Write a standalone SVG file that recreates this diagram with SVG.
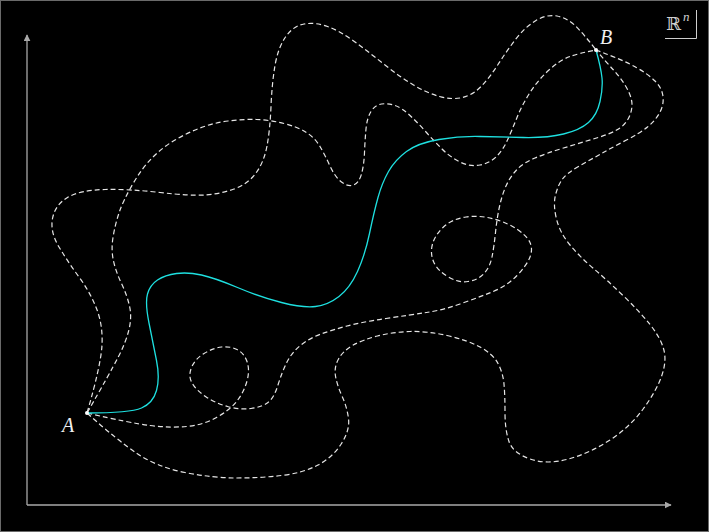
<svg xmlns="http://www.w3.org/2000/svg" width="709" height="532" viewBox="0 0 709 532">
<defs>
<style>
.bg{fill:#000;stroke:#6a6a6a;stroke-width:1}
.axis{fill:none;stroke:#a8a8a8;stroke-width:1.3}
.path{fill:none;stroke:#e6e6e6;stroke-width:1.2;stroke-dasharray:5 3;stroke-linecap:butt}
.main{fill:none;stroke:#1ee0e0;stroke-width:1.3}
.lbl{font-family:"Liberation Serif","DejaVu Serif",serif;font-style:italic;font-size:20px;fill:#f0f0f0}
.rn{font-family:"DejaVu Serif","Liberation Serif",serif;fill:#d0d0d0}
.dot{fill:#fff}
</style>
<marker id="arr" viewBox="0 0 10 10" refX="9" refY="5" markerWidth="7" markerHeight="7" markerUnits="userSpaceOnUse" orient="auto">
<path d="M0,0 L10,5 L0,10 Z" fill="#a8a8a8"/>
</marker>
</defs>
<rect class="bg" x="0.5" y="0.5" width="708" height="531"/>
<g id="axes">
<path class="axis" d="M27,505 L27,35" marker-end="url(#arr)"/>
<path class="axis" d="M27,505 L671,505" marker-end="url(#arr)"/>
</g>
<g id="space-label">
<path d="M665,38.5 L696.5,38.5 L696.5,10" fill="none" stroke="#cfcfcf" stroke-width="1"/>
<text class="rn" x="666" y="30" font-size="18">ℝ</text>
<text class="lbl" x="683" y="21" style="font-size:13px;fill:#d0d0d0">n</text>
</g>
<g id="connectors">
<path id="path-a" class="path" d="M87,413 Q101,365 102,345 Q103,325 96.5,308.5 Q90,292 79,277 Q68,262 59,247 Q50,232 52.5,218.5 Q55,205 67.5,197.5 Q80,190 105,189.5 Q130,189 160,192.5 Q190,196 205,195 Q220,194 234,189 Q248,184 256,173 Q264,162 267,146 Q270,130 271,106.5 Q272,83 275,65.5 Q278,48 285.5,37 Q293,26 304,24 Q315,22 327.5,26.5 Q340,31 355,42 Q370,53 385,65 Q400,77 413.5,85 Q427,93 439.5,96.5 Q452,100 462.5,97.5 Q473,95 481.5,86 Q490,77 498,64.5 Q506,52 515.5,39.5 Q525,27 536,20.5 Q547,14 557,16 Q567,18 575,25.5 Q583,33 596,50"/>
<path id="path-b" class="path" d="M87,413 Q110,373 118,357.5 Q126,342 129,329.5 Q132,317 129.5,306 Q127,295 121.5,283.5 Q116,272 113.5,261 Q111,250 113,237.5 Q115,225 119,213 Q123,201 132.5,184.5 Q142,168 152.5,157.5 Q163,147 175,140 Q187,133 200,128 Q213,123 228,121 Q243,119 256.5,119.5 Q270,120 284,123.5 Q298,127 306.5,132.5 Q315,138 320,146.5 Q325,155 330,166 Q335,177 341.5,182 Q348,187 353.5,185 Q359,183 361.5,174 Q364,165 364.5,152.5 Q365,140 366,129 Q367,118 371,111.5 Q375,105 381.5,104 Q388,103 395,105.5 Q402,108 410,115.5 Q418,123 426,132 Q434,141 442,149 Q450,157 460,162 Q470,167 480,165 Q490,163 496.5,156.5 Q503,150 507.5,140 Q512,130 517,117.5 Q522,105 530,92.5 Q538,80 549,70 Q560,60 570,56.5 Q580,53 596,50"/>
<path id="path-c" class="path" d="M87,413 Q130,423 150,425.5 Q170,428 186.5,426.5 Q203,425 216.5,417.5 Q230,410 237,401 Q244,392 247,381 Q250,370 247,361.5 Q244,353 237,349.5 Q230,346 221.5,347 Q213,348 204,353.5 Q195,359 191.5,367.5 Q188,376 192,383 Q196,390 205.5,396.5 Q215,403 227.5,406.5 Q240,410 251,408.5 Q262,407 268,402.5 Q274,398 278,385 Q282,372 287,362 Q292,352 301,345 Q310,338 321,334 Q332,330 347,326 Q362,322 386,318.5 Q410,315 426.5,312.5 Q443,310 460,304 Q477,298 492,292 Q507,286 517,275.5 Q527,265 530,257 Q533,249 530,242.5 Q527,236 517.5,229.5 Q508,223 494,219 Q480,215 466,217 Q452,219 443.5,227 Q435,235 432.5,244 Q430,253 433.5,261.5 Q437,270 447.5,276.5 Q458,283 468,281.5 Q478,280 484,273.5 Q490,267 492,257 Q494,247 495.5,232.5 Q497,218 499.5,206.5 Q502,195 506,186 Q510,177 516.5,170 Q523,163 535,158 Q547,153 563.5,148 Q580,143 596.5,138 Q613,133 620,128 Q627,123 630,115 Q633,107 631.5,100 Q630,93 625,85 Q620,77 613.5,70 Q607,63 596,50"/>
<path id="path-d" class="path" d="M87,413 Q117,440 137,453.5 Q157,467 185,472.5 Q213,478 236.5,478 Q260,478 281.5,475.5 Q303,473 318,465 Q333,457 341.5,443.5 Q350,430 348.5,418.5 Q347,407 342,396 Q337,385 335.5,376 Q334,367 338.5,359 Q343,351 352.5,345.5 Q362,340 377.5,336 Q393,332 410,331.5 Q427,331 447,335.5 Q467,340 480,347 Q493,354 498,363.5 Q503,373 504,384 Q505,395 505,412.5 Q505,430 509,441.5 Q513,453 530,459 Q547,465 568.5,459 Q590,453 610,440 Q630,427 643.5,408.5 Q657,390 662,375 Q667,360 663.5,348.5 Q660,337 650,324.5 Q640,312 623.5,296 Q607,280 593.5,268.5 Q580,257 570,245 Q560,233 556.5,219 Q553,205 555.5,195 Q558,185 562.5,179 Q567,173 578.5,166.5 Q590,160 601.5,153.5 Q613,147 626.5,140 Q640,133 647.5,127 Q655,121 659.5,113 Q664,105 663,96.5 Q662,88 655,81 Q648,74 635.5,67 Q623,60 596,50"/>
<path id="path-main" class="main" d="M87,413 Q130,413 141.5,408 Q153,403 156.5,390.5 Q160,378 156.5,360.5 Q153,343 149,323 Q145,303 147.5,294 Q150,285 157.5,280 Q165,275 176.5,273.5 Q188,272 201.5,275 Q215,278 237.5,287.5 Q260,297 281.5,302.5 Q303,308 315.5,306.5 Q328,305 339,296.5 Q350,288 357.5,271.5 Q365,255 369.5,233.5 Q374,212 378,197.5 Q382,183 388.5,171.5 Q395,160 406.5,151.5 Q418,143 439,139.5 Q460,136 480,136.5 Q500,137 523.5,137.5 Q547,138 563.5,134 Q580,130 588.5,122.5 Q597,115 600,101.5 Q603,88 602,78 Q601,68 596,50"/>
</g>
<g id="node-A">
<circle class="dot" cx="87" cy="413" r="2"/>
<text class="lbl" x="62" y="432">A</text>
</g>
<g id="node-B">
<circle class="dot" cx="596" cy="50" r="2"/>
<text class="lbl" x="600" y="44">B</text>
</g>
</svg>
